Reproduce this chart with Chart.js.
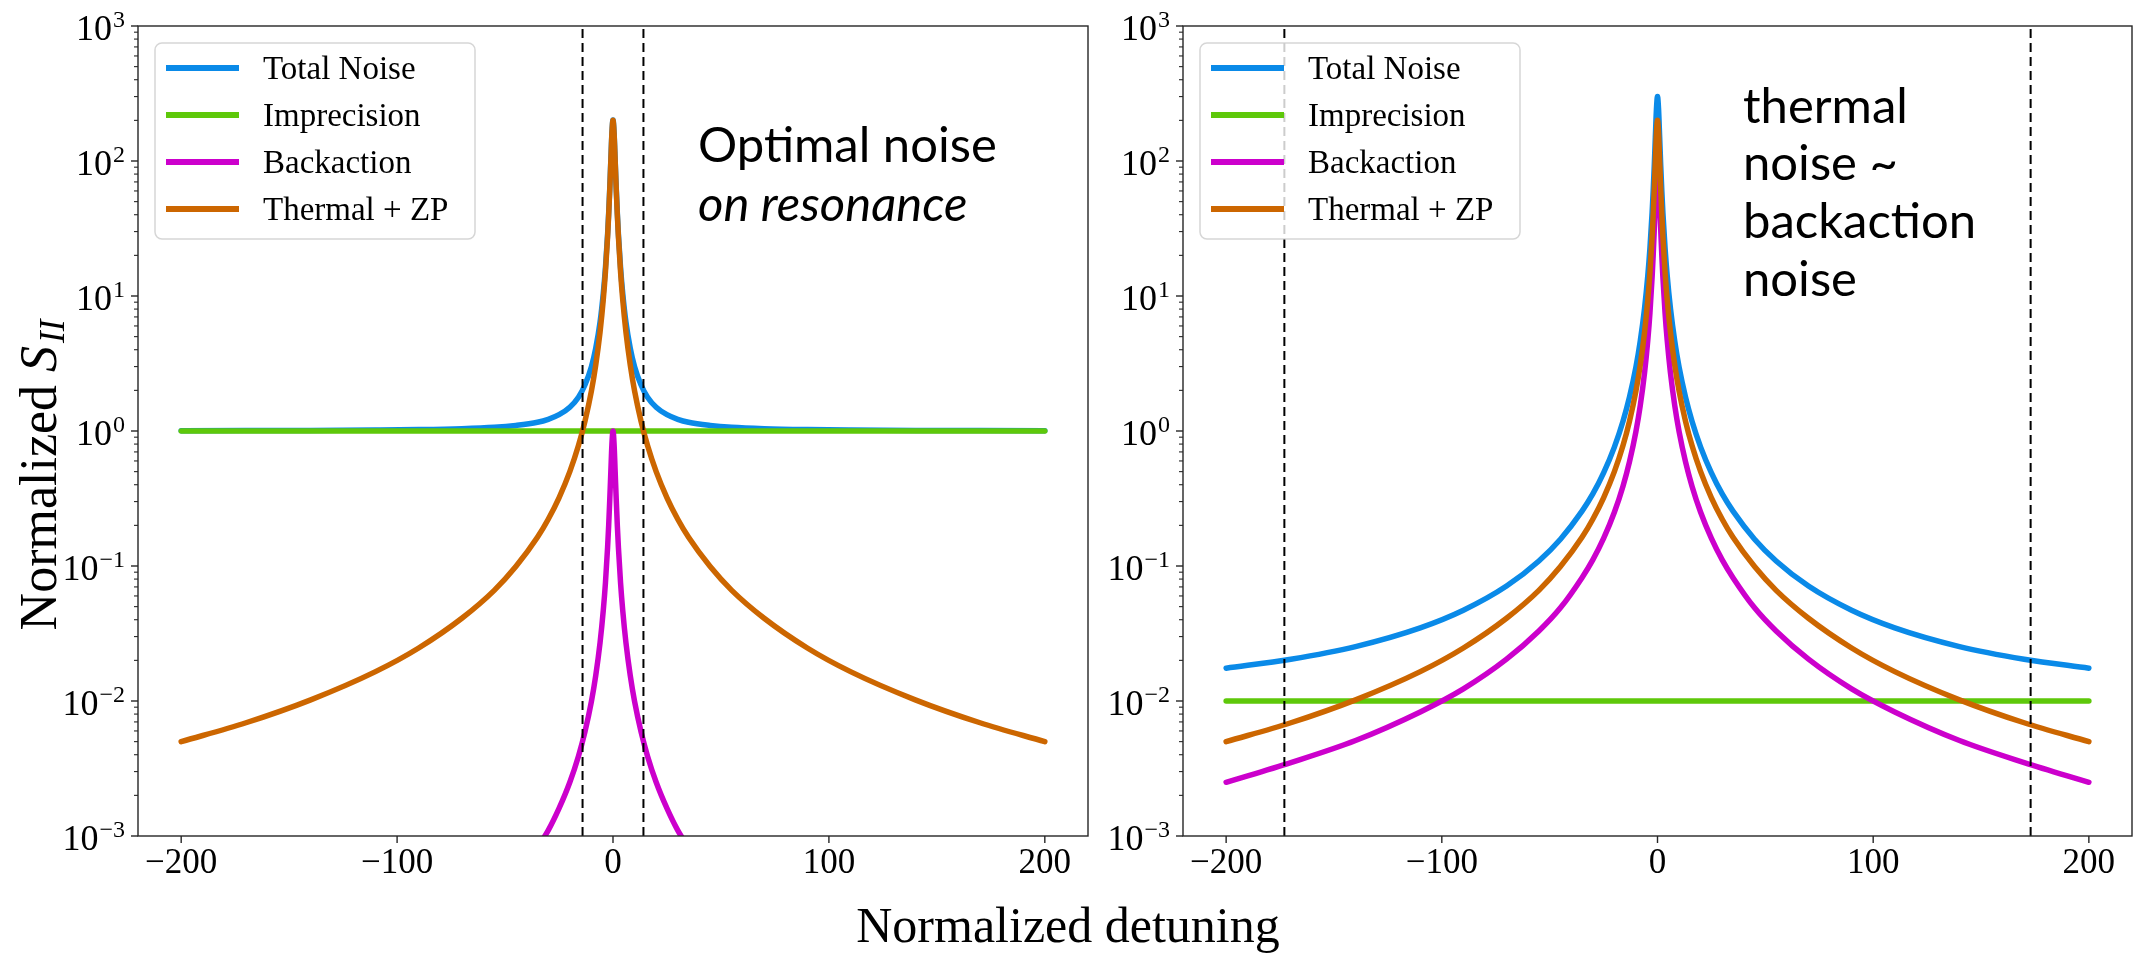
<!DOCTYPE html>
<html>
<head>
<meta charset="utf-8">
<script src="https://cdn.jsdelivr.net/npm/chart.js@4.4.0/dist/chart.umd.min.js"></script>
<style>
  body { margin: 0; background: #fff; width: 2136px; height: 953px; overflow: hidden; position: relative; }
  canvas { position: absolute; top: 0; }
  #xtitle { position: absolute; left: 0; top: 900px; width: 2136px; text-align: center;
            font: 50px/50px "Liberation Serif", "DejaVu Serif", serif; color: #000; }
</style>
</head>
<body>
<canvas id="left" width="1100" height="900" style="left:0"></canvas>
<canvas id="right" width="1036" height="900" style="left:1100px"></canvas>
<div id="xtitle">Normalized detuning</div>
<script>
// values (normalized detuning vs normalized S_II)
const detuning = [-200, -170, -140, -110, -90, -70, -55, -45, -35, -30, -25, -20, -16, -13, -10, -8, -6, -4.5, -3.5, -2.5, -2, -1.5, -1, -0.5,
  0, 0.5, 1, 1.5, 2, 2.5, 3.5, 4.5, 6, 8, 10, 13, 16, 20, 25, 30, 35, 45, 55, 70, 90, 110, 140, 170, 200];
const flatDetuning = [-200, 200];

// left panel: optimal noise on resonance
const leftTotal = [1.005, 1.007, 1.010, 1.017, 1.025, 1.041, 1.066, 1.10, 1.16, 1.22, 1.32, 1.50, 1.78, 2.19, 2.99, 4.1, 6.4, 10.5, 16.2, 28.7, 41.2, 62.8, 101.5, 161,
  201, 161, 101.5, 62.8, 41.2, 28.7, 16.2, 10.5, 6.4, 4.1, 2.99, 2.19, 1.78, 1.50, 1.32, 1.22, 1.16, 1.10, 1.066, 1.041, 1.025, 1.017, 1.010, 1.007, 1.005];
const leftImprecision = [1, 1];
const leftBackaction = [null, null, null, null, null, null, null, null, 0.00082, 0.0011, 0.0016, 0.0025, 0.0039, 0.0059, 0.0099, 0.0154, 0.027, 0.047, 0.075, 0.138, 0.2, 0.31, 0.5, 0.8,
  1, 0.8, 0.5, 0.31, 0.2, 0.138, 0.075, 0.047, 0.027, 0.0154, 0.0099, 0.0059, 0.0039, 0.0025, 0.0016, 0.0011, 0.00082, null, null, null, null, null, null, null, null];
const leftThermal = [0.005, 0.0069, 0.0102, 0.0165, 0.0247, 0.041, 0.066, 0.099, 0.163, 0.222, 0.32, 0.50, 0.78, 1.18, 1.98, 3.08, 5.4, 9.4, 15.1, 27.6, 40, 61.5, 100, 160,
  200, 160, 100, 61.5, 40, 27.6, 15.1, 9.4, 5.4, 3.08, 1.98, 1.18, 0.78, 0.50, 0.32, 0.222, 0.163, 0.099, 0.066, 0.041, 0.0247, 0.0165, 0.0102, 0.0069, 0.005];
const leftMarkers = [-14.1, 14.1];

// right panel: thermal noise ~ backaction noise
const rightTotal = [0.0175, 0.0204, 0.0253, 0.0348, 0.047, 0.071, 0.109, 0.158, 0.255, 0.342, 0.49, 0.76, 1.18, 1.78, 2.98, 4.63, 8.1, 14.1, 22.7, 41.4, 60, 92.3, 150, 240,
  300, 240, 150, 92.3, 60, 41.4, 22.7, 14.1, 8.1, 4.63, 2.98, 1.78, 1.18, 0.76, 0.49, 0.342, 0.255, 0.158, 0.109, 0.071, 0.047, 0.0348, 0.0253, 0.0204, 0.0175];
const rightImprecision = [0.01, 0.01];
const rightBackaction = [0.0025, 0.0035, 0.0051, 0.0083, 0.0123, 0.0204, 0.033, 0.049, 0.082, 0.111, 0.16, 0.25, 0.39, 0.59, 0.99, 1.54, 2.7, 4.7, 7.5, 13.8, 20, 30.8, 50, 80,
  100, 80, 50, 30.8, 20, 13.8, 7.5, 4.7, 2.7, 1.54, 0.99, 0.59, 0.39, 0.25, 0.16, 0.111, 0.082, 0.049, 0.033, 0.0204, 0.0123, 0.0083, 0.0051, 0.0035, 0.0025];
const rightThermal = [0.005, 0.0069, 0.0102, 0.0165, 0.0247, 0.041, 0.066, 0.099, 0.163, 0.222, 0.32, 0.50, 0.78, 1.18, 1.98, 3.08, 5.4, 9.4, 15.1, 27.6, 40, 61.5, 100, 160,
  200, 160, 100, 61.5, 40, 27.6, 15.1, 9.4, 5.4, 3.08, 1.98, 1.18, 0.78, 0.50, 0.32, 0.222, 0.163, 0.099, 0.066, 0.041, 0.0247, 0.0165, 0.0102, 0.0069, 0.005];
const rightMarkers = [-173, 173];

const seriesNames = ['Total Noise', 'Imprecision', 'Backaction', 'Thermal + ZP'];
const seriesColors = ['#0a8ae8', '#5ec80a', '#cc00cc', '#cc6600'];
const xTicks = [-200, -100, 0, 100, 200];
const yTickExps = [-3, -2, -1, 0, 1, 2, 3];
const minorSteps = [2, 3, 4, 5, 6, 7, 8, 9];

const serif = '"Liberation Serif", "DejaVu Serif", serif';
const sans = 'Lato, "Noto Sans", sans-serif';
const yMin = Math.pow(10, yTickExps[0]);
const yMax = Math.pow(10, yTickExps[yTickExps.length - 1]);

function pts(xs, ys) {
  return xs.map((x, i) => ({ x: x, y: ys[i] }));
}

function minus(n) {
  return n < 0 ? '\u2212' + Math.abs(n) : String(n);
}

function curve(i, data) {
  return {
    label: seriesNames[i],
    data: data,
    borderColor: seriesColors[i],
    borderWidth: 5.5,
    pointRadius: 0,
    cubicInterpolationMode: 'monotone',
    borderCapStyle: 'round',
    borderJoinStyle: 'round',
    spanGaps: false,
    order: 4 - i
  };
}

// ticks, frame, labels, legend and notes drawn by hand to look like matplotlib
const decor = {
  id: 'decor',
  afterDatasetsDraw(chart, args, o) {
    const { ctx, chartArea: a } = chart;
    const x = chart.scales.x, y = chart.scales.y;
    ctx.save();
    ctx.strokeStyle = '#262626';
    ctx.lineWidth = 1.4;
    ctx.strokeRect(a.left, a.top, a.right - a.left, a.bottom - a.top);

    ctx.fillStyle = '#000';
    ctx.font = '35px ' + serif;
    ctx.textAlign = 'center';
    ctx.textBaseline = 'alphabetic';
    x.ticks.forEach(t => {
      const px = x.getPixelForValue(t.value);
      ctx.beginPath();
      ctx.moveTo(px, a.bottom);
      ctx.lineTo(px, a.bottom + 7);
      ctx.stroke();
      ctx.fillText(minus(t.value), px, a.bottom + 37);
    });

    ctx.textAlign = 'right';
    y.ticks.forEach(t => {
      const py = y.getPixelForValue(t.value);
      const e = Math.log10(t.value);
      const major = Math.abs(e - Math.round(e)) < 1e-6;
      ctx.lineWidth = major ? 1.4 : 1.1;
      ctx.beginPath();
      ctx.moveTo(a.left, py);
      ctx.lineTo(a.left - (major ? 7 : 4), py);
      ctx.stroke();
      if (major) {
        const sup = minus(Math.round(e));
        ctx.font = '24px ' + serif;
        const w = ctx.measureText(sup).width;
        const right = a.left - 13;
        ctx.fillText(sup, right, py + 1);
        ctx.font = '36px ' + serif;
        ctx.fillText('10', right - w - 1, py + 14);
      }
    });

    if (o.yTitle) {
      ctx.translate(56, 475);
      ctx.rotate(-Math.PI / 2);
      ctx.textAlign = 'left';
      const f1 = '52px ' + serif, f2 = 'italic 52px ' + serif, f3 = 'italic 35px ' + serif;
      ctx.font = f1; const w1 = ctx.measureText('Normalized ').width;
      ctx.font = f2; const w2 = ctx.measureText('S').width;
      ctx.font = f3; const w3 = ctx.measureText('II').width;
      let sx = -(w1 + w2 + w3 + 3) / 2;
      ctx.font = f1; ctx.fillText('Normalized ', sx, 0); sx += w1;
      ctx.font = f2; ctx.fillText('S', sx, 0); sx += w2 + 3;
      ctx.font = f3; ctx.fillText('II', sx, 8);
    }
    ctx.restore();
  },
  afterDraw(chart, args, o) {
    const { ctx, chartArea: a } = chart;
    ctx.save();
    const bx = a.left + 17, by = a.top + 17, bw = 320, bh = 196;
    ctx.beginPath();
    ctx.roundRect(bx, by, bw, bh, 7);
    ctx.fillStyle = 'rgba(255,255,255,0.8)';
    ctx.fill();
    ctx.strokeStyle = 'rgba(204,204,204,0.8)';
    ctx.lineWidth = 1.5;
    ctx.stroke();
    ctx.font = '33px ' + serif;
    ctx.textAlign = 'left';
    ctx.textBaseline = 'alphabetic';
    seriesNames.forEach((name, i) => {
      const yy = by + 25 + i * 47;
      ctx.strokeStyle = seriesColors[i];
      ctx.lineWidth = 6;
      ctx.beginPath();
      ctx.moveTo(bx + 11, yy);
      ctx.lineTo(bx + 84, yy);
      ctx.stroke();
      ctx.fillStyle = '#000';
      ctx.fillText(name, bx + 108, yy + 11);
    });

    ctx.fillStyle = '#000';
    o.notes.forEach(n => {
      ctx.font = (n.italic ? 'italic ' : '') + '49px ' + sans;
      ctx.fillText(n.text, n.x, n.y);
    });
    ctx.restore();
  }
};

function makePanel(id, d, yWidth, padRight, notes, yTitle) {
  const datasets = [
    curve(0, pts(detuning, d.total)),
    curve(1, pts(flatDetuning, d.imp)),
    curve(2, pts(detuning, d.back)),
    curve(3, pts(detuning, d.therm))
  ];
  d.markers.forEach(m => {
    datasets.push({
      data: [{ x: m, y: yMin }, { x: m, y: yMax }],
      borderColor: '#000',
      borderWidth: 2,
      borderDash: [9, 5],
      pointRadius: 0,
      order: 0
    });
  });
  return new Chart(document.getElementById(id), {
    type: 'line',
    data: { datasets: datasets },
    options: {
      responsive: false,
      animation: false,
      devicePixelRatio: 1,
      layout: { padding: { top: 26, right: padRight, left: 0, bottom: 0 } },
      plugins: {
        legend: { display: false },
        tooltip: { enabled: false },
        decor: { notes: notes, yTitle: yTitle }
      },
      scales: {
        x: {
          type: 'linear', min: -220, max: 220,
          afterBuildTicks: s => { s.ticks = xTicks.map(v => ({ value: v })); },
          afterFit: s => { s.height = 64; },
          ticks: { display: false },
          grid: { display: false, drawTicks: false },
          border: { display: false }
        },
        y: {
          type: 'logarithmic', min: yMin, max: yMax,
          afterBuildTicks: s => {
            const t = [];
            yTickExps.forEach(e => {
              t.push({ value: Math.pow(10, e) });
              if (e < yTickExps[yTickExps.length - 1]) minorSteps.forEach(m => t.push({ value: m * Math.pow(10, e) }));
            });
            s.ticks = t;
          },
          afterFit: s => { s.width = yWidth; },
          ticks: { display: false },
          grid: { display: false, drawTicks: false },
          border: { display: false }
        }
      }
    },
    plugins: [decor]
  });
}

makePanel('left',
  { total: leftTotal, imp: leftImprecision, back: leftBackaction, therm: leftThermal, markers: leftMarkers },
  138, 12,
  [{ text: 'Optimal noise', x: 698, y: 162 }, { text: 'on resonance', x: 698, y: 221, italic: true }],
  true);

makePanel('right',
  { total: rightTotal, imp: rightImprecision, back: rightBackaction, therm: rightThermal, markers: rightMarkers },
  83, 4,
  [{ text: 'thermal', x: 643, y: 123 }, { text: 'noise ~', x: 643, y: 180 }, { text: 'backaction', x: 643, y: 238 }, { text: 'noise', x: 643, y: 296 }],
  false);
</script>
</body>
</html>
